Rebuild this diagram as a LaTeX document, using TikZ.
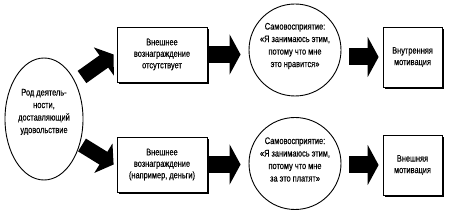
\documentclass[tikz,border=0pt]{standalone}
\usepackage{fontspec}
\setmainfont{Liberation Sans}[FakeStretch=0.78,FakeBold=0.3]
\usetikzlibrary{arrows.meta,shadows,shapes.geometric}

\begin{document}
\begin{tikzpicture}[x=1pt,y=1pt,
    font=\fontsize{9.5}{11.5}\selectfont,
    caixa/.style={draw,line width=0.8pt,fill=white,align=center,
      minimum width=90pt,minimum height=55pt,inner sep=1pt,
      drop shadow={shadow xshift=1.6pt,shadow yshift=-1.6pt,fill=black,opacity=1}},
    caixapeq/.style={caixa,minimum width=59pt,minimum height=60pt},
    circulo/.style={draw,circle,line width=0.9pt,minimum size=92pt,inner sep=0pt},
    texto/.style={align=center,font=\fontsize{9.5}{12.5}\selectfont},
    seta/.style={line width=17pt,-{Triangle[length=11pt,width=40pt]}},
    setadiag/.style={line width=15pt,-{Triangle[length=12pt,width=34pt]}}]
        \useasboundingbox (0,0) rectangle (454,219);

        % Elipse
        \node[draw,ellipse,line width=0.9pt,
              minimum width=78pt,minimum height=122pt,inner sep=0pt]
            (rod) at (44,100) {};
        \node[texto] (rodtxt) at ([yshift=7pt]rod.center)
            {Род деятель-\\ности,\\доставляющий\\удовольствие};

        % Caixas do meio
        \node[caixa] (b1) at (162,164.5) {Внешнее\\вознаграждение\\отсутствует};
        \node[caixa] (b2) at (162,54.5) {Внешнее\\вознаграждение\\(например, деньги)};

        % Círculos
        \node[circulo] (c1) at (295,169) {};
        \node[circulo] (c2) at (295,55.5) {};
        \node[texto] (c1txt) at ([yshift=4pt]c1.center)
            {Самовосприятие:\\«Я занимаюсь этим,\\потому что мне\\это нравится»};
        \node[texto] (c2txt) at ([yshift=4pt]c2.center)
            {Самовосприятие:\\«Я занимаюсь этим,\\потому что мне\\за это платят»};

        % Caixas finais
        \node[caixapeq] (b3) at (412.5,162) {Внутренняя\\мотивация};
        \node[caixapeq] (b4) at (412.5,54) {Внешняя\\мотивация};

        % Setas diagonais
        \coordinate (s1) at (82,142);
        \coordinate (s2) at (82,74);
        \draw[setadiag] (s1) -- ([xshift=-3pt]b1.west);
        \draw[setadiag] (s2) -- ([xshift=-3pt]b2.west);

        % Setas horizontais
        \draw[seta] ([xshift=1.5pt]b1.east) -- ([xshift=-8pt]b1.east -| c1.west);
        \draw[seta] ([xshift=1.5pt]b2.east) -- ([xshift=-8pt]b2.east -| c2.west);
        \draw[seta] ([xshift=8pt]b3.west -| c1.east) -- ([xshift=-4pt]b3.west);
        \draw[seta] ([xshift=8pt]b4.west -| c2.east) -- ([xshift=-4pt]b4.west);
    \end{tikzpicture}
\end{document}
